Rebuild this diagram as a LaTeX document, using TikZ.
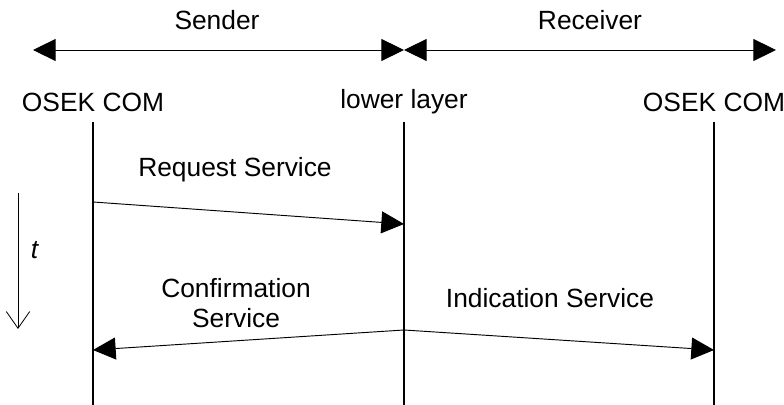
\documentclass[tikz,border=0pt]{standalone}
\usepackage{fontspec}
\setmainfont{Liberation Sans}
\usetikzlibrary{arrows.meta}

\begin{document}
\begin{tikzpicture}[x=0.03cm, y=-0.03cm,
    every node/.style={font=\fontsize{22.5}{26}\selectfont, inner sep=0pt},
    lifeline/.style={line width=2.1pt},
    msg/.style={line width=0.8pt, -{Triangle[length=0.68cm, width=0.66cm]}},
    span/.style={line width=0.8pt, {Triangle[length=0.68cm, width=0.66cm]}-{Triangle[length=0.68cm, width=0.66cm]}},
    timeaxis/.style={line width=0.7pt, -{Straight Barb[length=0.5cm, width=0.7cm]}}]
    \useasboundingbox (0,0) rectangle (784,405);
      % roles
      \node (snd) at (217,20) {Sender};
      \node (rcv) at (590,20) {Receiver};
      \coordinate (sl) at (33,50);
      \coordinate (mid) at (404,50);
      \coordinate (sr) at (776,50);
      \draw [span] (sl) -- (mid);
      \draw [span] (mid) -- (sr);
      % layers
      \node (com1) at (93,102) {OSEK COM};
      \node (low) at (404,102) {lower layer};
      \node (com2) at (714,102) {OSEK COM};
      \coordinate (com1b) at (93,405);
      \coordinate (lowb) at (404,405);
      \coordinate (com2b) at (714,405);
      \draw [lifeline] (93,122) -- (com1b);
      \draw [lifeline] (404,122) -- (lowb);
      \draw [lifeline] (714,122) -- (com2b);
      % services
      \coordinate (req1) at (93,202);
      \coordinate (req2) at (404,224);
      \coordinate (ind0) at (404,330);
      \coordinate (conf) at (93,350);
      \coordinate (ind) at (714,350);
      \draw [msg] (req1) -- (req2);
      \draw [msg] (ind0) -- (conf);
      \draw [msg] (ind0) -- (ind);
      \node (reqlbl) at (235,170) {Request Service};
      \node [align=center] (conflbl) at (236,303) {Confirmation\\Service};
      \node (indlbl) at (550,298) {Indication Service};
      % time
      \coordinate (t0) at (18,193);
      \coordinate (t1) at (18,329);
      \draw [timeaxis] (t0) -- (t1);
      \node (tlbl) at (35,250) {\textit{t}};
\end{tikzpicture}
\end{document}
